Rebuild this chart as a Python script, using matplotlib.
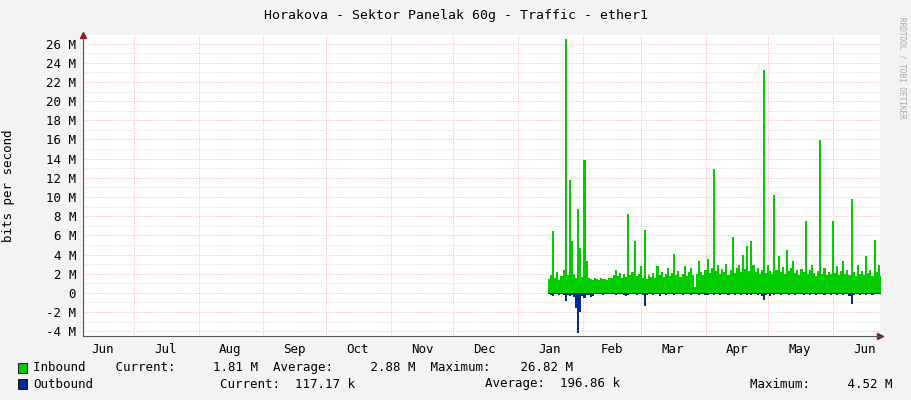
import matplotlib
matplotlib.use("Agg")
import matplotlib.pyplot as plt
import numpy as np

# days counted from Jun 1 of the first year
MONTH_STARTS = [30, 61, 92, 122, 153, 183, 214, 245, 273, 304, 334, 365]
MONTH_LABELS = ["Jun", "Jul", "Aug", "Sep", "Oct", "Nov", "Dec",
                "Jan", "Feb", "Mar", "Apr", "May", "Jun"]
MONTH_MIDS = [15, 45, 76, 107, 137, 168, 198, 229, 259, 288, 319, 349, 380]
START_DAY = 228.4

# traffic in Mbit/s, one value per day
INBOUND = [
    1.4, 1.9, 6.5, 1.6, 2.2, 1.3, 1.8, 2.4, 26.5, 1.9,
    11.8, 5.4, 2.0, 1.6, 8.7, 4.7, 1.7, 13.9, 3.3, 1.5,
    1.4, 1.3, 1.5, 1.4, 1.3, 1.5, 1.4, 1.4, 1.3, 1.5,
    1.6, 1.9, 2.4, 1.8, 2.1, 1.5, 2.0, 1.7, 8.2, 1.9,
    2.2, 5.4, 1.8, 2.0, 2.8, 1.6, 6.6, 1.4, 1.9, 1.7,
    2.1, 1.6, 2.8, 1.9, 2.2, 1.7, 2.0, 2.6, 1.8, 2.1,
    4.1, 1.9, 2.3, 1.7, 2.0, 2.8, 1.8, 2.2, 2.6, 1.9,
    0.6, 2.0, 3.3, 2.2, 1.9, 2.4, 3.5, 2.1, 2.6, 12.9,
    2.3, 2.9, 2.0, 2.5, 2.2, 3.0, 1.9, 2.4, 5.8, 2.1,
    2.6, 2.9, 2.2, 4.0, 2.5, 4.9, 2.3, 5.4, 2.9, 2.2,
    2.6, 2.0, 2.4, 23.3, 2.1, 2.9, 2.3, 2.0, 10.2, 2.4,
    3.8, 2.2, 2.7, 2.0, 4.5, 2.3, 2.6, 3.3, 2.1, 2.4,
    1.9, 2.5, 2.2, 7.5, 2.0, 2.4, 2.9, 2.1, 1.8, 2.3,
    15.9, 2.0, 2.6, 1.9, 2.2, 2.0, 7.5, 2.1, 2.8, 1.9,
    2.3, 3.3, 2.0, 2.4, 1.9, 9.8, 2.2, 1.8, 2.9, 2.0,
    2.3, 1.9, 3.8, 2.1, 2.4, 1.8, 5.5, 2.2, 2.9, 1.8,
]
OUTBOUND = [
    -0.15, -0.2, -0.3, -0.15, -0.1, -0.2, -0.15, -0.2, -0.9, -0.2,
    -0.3, -0.2, -0.4, -1.6, -4.2, -2.0, -0.3, -0.5, -0.2, -0.2,
    -0.4, -0.3, -0.15, -0.1, -0.15, -0.1, -0.2, -0.1, -0.15, -0.1,
    -0.15, -0.1, -0.2, -0.15, -0.1, -0.15, -0.2, -0.3, -0.2, -0.15,
    -0.1, -0.15, -0.2, -0.1, -0.15, -0.2, -1.4, -0.2, -0.15, -0.1,
    -0.2, -0.15, -0.1, -0.3, -0.15, -0.1, -0.2, -0.15, -0.1, -0.15,
    -0.2, -0.1, -0.15, -0.1, -0.2, -0.15, -0.1, -0.15, -0.2, -0.1,
    -0.15, -0.1, -0.2, -0.15, -0.1, -0.2, -0.25, -0.15, -0.1, -0.2,
    -0.15, -0.1, -0.2, -0.15, -0.1, -0.15, -0.2, -0.1, -0.15, -0.2,
    -0.1, -0.15, -0.2, -0.15, -0.1, -0.2, -0.15, -0.2, -0.1, -0.15,
    -0.2, -0.1, -0.3, -0.7, -0.2, -0.15, -0.3, -0.1, -0.2, -0.15,
    -0.1, -0.2, -0.15, -0.1, -0.15, -0.2, -0.1, -0.15, -0.2, -0.1,
    -0.15, -0.1, -0.2, -0.15, -0.1, -0.2, -0.15, -0.1, -0.2, -0.15,
    -0.1, -0.15, -0.2, -0.1, -0.15, -0.2, -0.1, -0.15, -0.2, -0.1,
    -0.15, -0.2, -0.1, -0.15, -0.3, -1.2, -0.2, -0.15, -0.1, -0.2,
    -0.15, -0.1, -0.2, -0.15, -0.1, -0.2, -0.15, -0.1, -0.15, -0.12,
]
Y_TICKS = list(range(-4, 27, 2))

BG = "#F3F3F3"
MONO = "DejaVu Sans Mono"
FS = 9

fig = plt.figure(figsize=(9.11, 4.0), dpi=100, facecolor=BG)
ax = fig.add_axes([83 / 911, 64 / 400, 797 / 911, 301 / 400])
ax.set_facecolor("white")

x = START_DAY + np.arange(len(INBOUND)) * 1.0
x = np.append(x, x[-1] + 1)
inb = np.append(INBOUND, INBOUND[-1])
outb = np.append(OUTBOUND, OUTBOUND[-1])
ax.fill_between(x, 0, inb, step="post", color="#00CC00", lw=0, zorder=3)
ax.fill_between(x, 0, outb, step="post", color="#002A97", lw=0, zorder=3)
ax.axhline(0, xmin=(x[0] - 5.6) / 382, xmax=1, color="#002A97", lw=0.6, zorder=4)

ax.set_xlim(5.6, 387.5)
ax.set_ylim(-4.5, 26.9)

# grid like rrdtool: grey minor, red major
for v in range(-4, 27):
    col = "#FF9999" if v % 2 == 0 else "#CCCCCC"
    ax.axhline(v, color=col, lw=0.6, ls=(0, (1, 2)), zorder=1)
for d in MONTH_STARTS:
    ax.axvline(d, color="#FF9999", lw=0.6, ls=(0, (1, 2)), zorder=1)

ax.set_yticks(Y_TICKS)
ax.set_yticklabels([f"{v} M" if v != 0 else "0" for v in Y_TICKS],
                   fontsize=FS, family=MONO)
ax.set_xticks(MONTH_MIDS)
ax.set_xticklabels(MONTH_LABELS, fontsize=FS, family=MONO)
ax.tick_params(length=0, pad=5)
ax.set_ylabel("bits per second", fontsize=FS, family=MONO)
ax.yaxis.set_label_coords(-68 / 797, 0.5)

for s in ["top", "right"]:
    ax.spines[s].set_visible(False)
for s in ["left", "bottom"]:
    ax.spines[s].set_color("#555555")
    ax.spines[s].set_linewidth(0.8)

# axis arrows
ax.plot([1], [0], marker=">", color="#8B1A1A", ms=4, transform=ax.transAxes, clip_on=False)
ax.plot([0], [1], marker="^", color="#8B1A1A", ms=4, transform=ax.transAxes, clip_on=False)

fig.text(0.5, 1 - 15 / 400, "Horakova - Sektor Panelak 60g - Traffic - ether1",
         ha="center", va="center", fontsize=9.5, family=MONO)
fig.text(902 / 911, 0.83, "RRDTOOL / TOBI OETIKER", rotation=270,
         ha="center", va="center", fontsize=5.5, family=MONO, color="#AAAAAA")

def swatch(y, color):
    fig.patches.append(plt.Rectangle((18 / 911, (400 - y - 5) / 400), 9 / 911, 10 / 400,
                                     transform=fig.transFigure, facecolor=color,
                                     edgecolor="black", lw=0.6))

swatch(368, "#00CC00")
swatch(384, "#002A97")
fig.text(33 / 911, 1 - 368 / 400,
         "Inbound    Current:     1.81 M  Average:     2.88 M  Maximum:    26.82 M",
         va="center", fontsize=FS, family=MONO)
fig.text(33 / 911, 1 - 384 / 400, "Outbound", va="center", fontsize=FS, family=MONO)
fig.text(220 / 911, 1 - 384 / 400, "Current:  117.17 k", va="center", fontsize=FS, family=MONO)
fig.text(485 / 911, 1 - 384 / 400, "Average:  196.86 k", va="center", fontsize=FS, family=MONO)
fig.text(750 / 911, 1 - 384 / 400, "Maximum:     4.52 M", va="center", fontsize=FS, family=MONO)

fig.savefig("out.png", dpi=100, facecolor=BG)
